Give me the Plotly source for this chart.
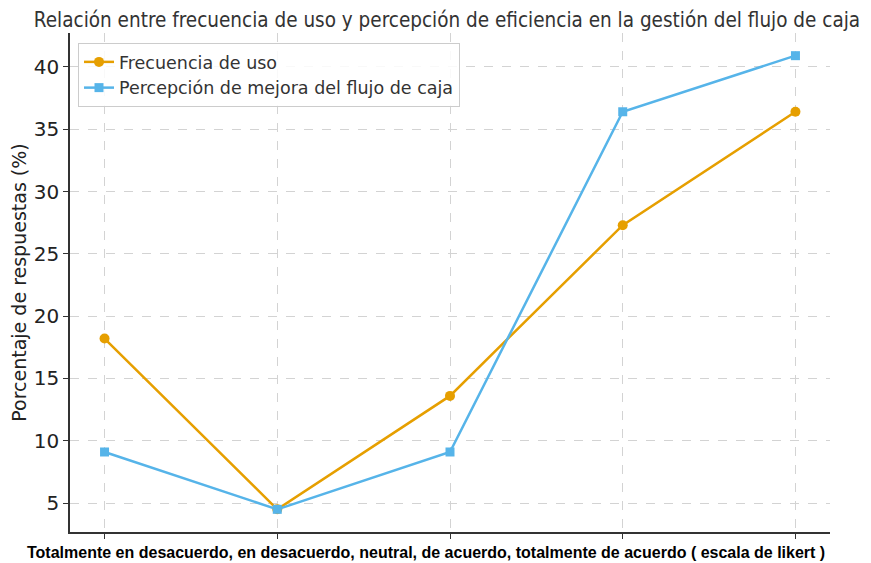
import plotly.graph_objects as go

x_pos = [0, 1, 2, 3, 4]
frecuencia = [18.2, 4.5, 13.6, 27.3, 36.4]
percepcion = [9.1, 4.5, 9.1, 36.4, 40.9]
y_ticks = [5, 10, 15, 20, 25, 30, 35, 40]

# page body has an 8px margin; the figure is sized/offset to fit the 871x563 window
OFF = 8
W, H = 871 - OFF, 563 - OFF
L, T = 70 - OFF, 33 - OFF
R = W - (830 - OFF)
B = H - (532 - OFF)
PW, PH = W - L - R, H - T - B

fig = go.Figure()
fig.add_trace(go.Scatter(x=x_pos, y=frecuencia, mode="lines+markers", name="Frecuencia de uso",
                         line=dict(color="#E69F00", width=2.5),
                         marker=dict(symbol="circle", size=10, color="#E69F00")))
fig.add_trace(go.Scatter(x=x_pos, y=percepcion, mode="lines+markers", name="Percepción de mejora del flujo de caja",
                         line=dict(color="#56B4E9", width=2.5),
                         marker=dict(symbol="square", size=9, color="#56B4E9")))

grid = dict(showgrid=True, gridcolor="#d3d3d3", griddash="dash", gridwidth=1)
fig.update_xaxes(range=[-0.2, 4.2], tickvals=x_pos, ticktext=[""] * 5, ticks="outside", ticklen=5,
                 tickcolor="#333", showline=True, linecolor="#333", linewidth=1.5, zeroline=False,
                 automargin=False, **grid)
fig.update_yaxes(range=[2.68, 42.72], tickvals=y_ticks, ticks="outside", ticklen=5, tickcolor="#333",
                 showline=True, linecolor="#333", linewidth=1.5, zeroline=False, automargin=False,
                 tickfont=dict(size=20, color="#222", family="DejaVu Sans"),
                 title=dict(text="Porcentaje de respuestas (%)", font=dict(size=19, color="#222", family="DejaVu Sans"),
                            standoff=6), **grid)

fig.update_layout(
    width=W, height=H,
    margin=dict(l=L, r=R, t=T, b=B, autoexpand=False),
    plot_bgcolor="white", paper_bgcolor="white",
    title=dict(text="Relación entre frecuencia de uso y percepción de eficiencia en la gestión del flujo de caja",
               font=dict(family="DejaVu Sans Condensed, DejaVu Sans", size=20.5, color="#333"),
               x=(447 - OFF) / W, xanchor="center", y=1 - (20 - OFF) / H, yanchor="middle"),
    legend=dict(x=8 / PW, y=1 - 10 / PH, xanchor="left", yanchor="top",
                bgcolor="rgba(255,255,255,0.85)", bordercolor="#cccccc", borderwidth=1,
                font=dict(family="DejaVu Sans", size=17.5, color="#333")),
    showlegend=True,
)

fig.add_annotation(text="<b>Totalmente en desacuerdo, en desacuerdo, neutral, de acuerdo, totalmente de acuerdo ( escala de likert )</b>",
                   xref="paper", yref="paper", x=(426 - OFF - L) / PW, y=-(552 - 532) / PH,
                   xanchor="center", yanchor="middle", showarrow=False,
                   font=dict(family="Liberation Sans Narrow, Liberation Sans", size=16, color="black"))

fig.write_html("out.html")
